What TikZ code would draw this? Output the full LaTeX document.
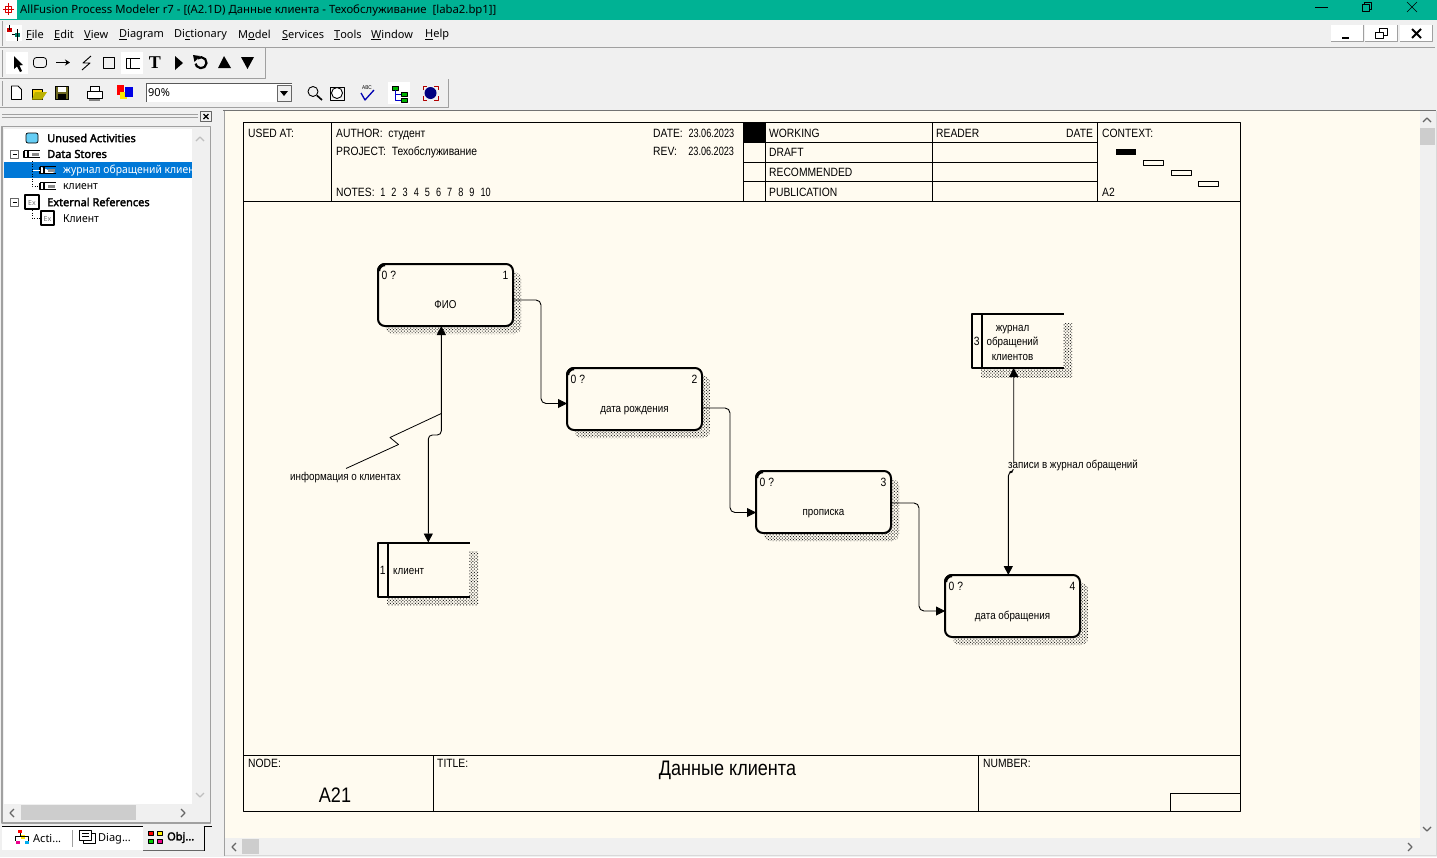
\documentclass[tikz,border=0pt]{standalone}
\usepackage{fontspec}
\setmainfont{Noto Sans}
\newfontfamily\dgmfont[FakeStretch=.86]{Liberation Sans}
\newfontfamily\dgmdigits[FakeStretch=.76]{Liberation Sans}
\newfontfamily\uiheavy[FakeBold=2.4]{Noto Sans}
\newfontfamily\uicyr[FakeStretch=.94]{Noto Sans}
\newfontfamily\uiserif{Liberation Serif}
\usetikzlibrary{arrows.meta,patterns.meta,shadows,calc}
\definecolor{cream}{HTML}{FFFBF0}
\definecolor{teal}{HTML}{00B294}
\definecolor{wingray}{HTML}{F0F0F0}
\definecolor{selblue}{HTML}{0078D7}
\definecolor{thumb}{HTML}{CDCDCD}
\definecolor{edgegray}{HTML}{A0A0A0}
\tikzset{
	ui/.style={inner sep=0pt,anchor=west,yshift=-1pt,font=\fontsize{11}{13}\selectfont},
	uibold/.style={inner sep=0pt,anchor=west,font=\fontsize{11}{13}\uiheavy},
	hdr/.style={inner sep=0pt,anchor=west,text height=8.6pt,text depth=0pt,font=\fontsize{12}{14}\dgmfont},
	dgm/.style={inner sep=0pt,font=\fontsize{11.4}{14.5}\dgmfont,align=center},
	dgmline/.style={dgm,text height=6pt,text depth=0pt},
	hatch/.style={pattern={Dots[radius=.7pt,distance=2.2pt,angle=45]},pattern color=black!85},
	actbox/.style={draw,line width=2pt,rounded corners=7pt,fill=cream,outer sep=0pt,inner sep=0pt,
		minimum width=135pt,minimum height=62pt,general shadow={shadow xshift=8pt,shadow yshift=-8pt,draw=none,hatch}},
	storebox/.style={fill=cream,outer sep=0pt,inner sep=0pt,
		minimum width=91pt,minimum height=54pt,general shadow={shadow xshift=9pt,shadow yshift=-9pt,draw=none,hatch}},
	storeline/.style={line width=2pt,line cap=rect},
	flow/.style={line width=.9pt,rounded corners=5pt},
	>={Triangle[length=9pt,width=9pt]},
	frameline/.style={line width=1pt},
	chev/.style={line width=1.3pt,draw=black!60},
}
\begin{document}
\begin{tikzpicture}[x=1pt,y=-1pt,line join=round]
	\useasboundingbox (0,0) rectangle (1437,857);
	\fill[wingray] (0,0) rectangle (1437,857);
	% title bar
	\fill[teal] (0,0) rectangle (1437,19.5);
	\fill[white] (0,0) rectangle (17,19);
	\draw[red!85!black,line width=1pt] (3,9) -- (14,9) (8.5,3) -- (8.5,15);
	\draw[red!85!black,line width=1pt] (5.5,6) rectangle (11.5,12);
	\node[ui,font=\fontsize{11.35}{13}\selectfont] (apptitle) at (20,9) {AllFusion Process Modeler r7 - [(A2.1D) Данные клиента - Техобслуживание \ [laba2.bp1]]};
	\draw (1315,7) -- (1328,7);
	\draw (1362,4.5) rectangle (1369,11.5) (1364,4.5) -- (1364,2.5) -- (1371,2.5) -- (1371,9.5) -- (1369,9.5);
	\draw (1407,2) -- (1417,12) (1417,2) -- (1407,12);
	% menu bar
	\fill[white] (6,25) rectangle (22,41);
	\fill[red!80!black] (7,28) rectangle (12,32);
	\fill[teal!70!black] (15,33) rectangle (20,37);
	\draw (9.5,25) -- (9.5,30) (17.5,29) -- (17.5,41) (12,34) -- (15,34);
	\foreach \x/\t in {26/\underline{F}ile,54/\underline{E}dit,84/\underline{V}iew,119/\underline{D}iagram,174/Di\underline{c}tionary,238/M\underline{o}del,282/\underline{S}ervices,334/\underline{T}ools,371/\underline{W}indow,425/\underline{H}elp}
		\node[ui] (menu\x) at (\x,34) {\t};
	\foreach \x in {1331,1365,1400} {
		\fill[white] (\x,25) rectangle (\x+32,41);
		\draw[edgegray,line width=.9pt] (\x+32,25) -- (\x+32,41) -- (\x,41);
	}
	\draw[line width=1.6pt] (1342,38) -- (1349,38);
	\draw[line width=.9pt] (1375,32) rectangle (1383,38);
	\draw[line width=.9pt] (1379,32) -- (1379,28.5) -- (1387,28.5) -- (1387,35) -- (1383,35);
	\draw[line width=1.8pt] (1412,29) -- (1421,38) (1421,29) -- (1412,38);
	\draw[edgegray,line width=1pt] (0,47.5) -- (1435,47.5);
	\draw[edgegray,line width=.6pt] (265,48) -- (265,78) -- (0,78) (448,79) -- (448,107.5) -- (0,107.5);
	\draw[edgegray,line width=.8pt] (2,21) -- (2,46) (2,50) -- (2,77) (2,81) -- (2,106);
	% first toolbar
	\fill[white] (6,52) rectangle (28,74);
	\fill[white] (121,52) rectangle (143,74);
	\fill (14,56) -- (14,69) -- (17,66.5) -- (20,72) -- (22,71) -- (19.5,65.5) -- (23,65) -- cycle;
	\draw[line width=.8pt,rounded corners=3pt] (33.5,57.5) rectangle (46.5,67.5);
	\draw[-{Stealth[length=5pt,width=6pt]},line width=.8pt] (56,62.5) -- (70,62.5);
	\draw[line width=.9pt] (91,56) -- (83,63) -- (90,63) -- (82,70);
	\draw[line width=1.6pt] (103.5,57.5) rectangle (114.5,68.5);
	\draw[line width=.9pt] (140,58) -- (126.5,58) -- (126.5,68) -- (140,68) (130.5,58) -- (130.5,68);
	\node[font=\fontsize{18}{18}\uiserif\bfseries,inner sep=0pt] (toolt) at (155,62.5) {T};
	\fill (175,56) -- (183,63) -- (175,70) -- cycle;
	\draw[line width=2.2pt] (197.5,58.5) arc[start angle=130,end angle=-170,radius=5.5pt];
	\fill (193,55) -- (200,56) -- (194.5,62) -- cycle;
	\fill (224,56) -- (231,68) -- (218,68) -- cycle;
	\fill (241,57) -- (254,57) -- (247.5,69) -- cycle;
	% second toolbar
	\draw[fill=white,line width=.9pt] (11.5,86) -- (18,86) -- (21.5,89.5) -- (21.5,99.5) -- (11.5,99.5) -- cycle;
	\draw[fill=yellow!70!orange,line width=.8pt] (32,99.5) -- (32,89) -- (42,89) -- (42,99.5) -- cycle;
	\fill[yellow!40!olive] (35,92) -- (47,92) -- (42,99.5) -- (32,99.5) -- cycle;
	\draw[fill=olive!70!black,line width=.8pt] (55.5,86.5) rectangle (68.5,99.5);
	\fill[white] (58,87) rectangle (66,92);
	\fill (58,94) rectangle (66,99);
	\draw[fill=white,line width=.8pt] (87,91) rectangle (102,98);
	\draw[fill=white,line width=.8pt] (90,86) rectangle (99,91);
	\fill[black!50] (89,99) rectangle (100,101);
	\fill[red] (117,85) rectangle (124,95);
	\fill[yellow!90!orange] (120,92) rectangle (127,99);
	\fill[blue!90!black] (125,87) rectangle (133,97);
	\fill[white] (146,83) rectangle (292,102);
	\draw[black!65,line width=.8pt] (292,83) -- (146,83) -- (146,102);
	\node[ui] (zoomval) at (148,92) {90\%};
	\fill[wingray] (277,85) rectangle (291,101);
	\draw[black!60,line width=.7pt] (277,85) rectangle (291,101);
	\fill (280,91) -- (288,91) -- (284,96) -- cycle;
	\draw[line width=.9pt] (313,91.5) circle[radius=5pt];
	\draw[line width=1.6pt] (317,95.5) -- (322,100);
	\draw[line width=.9pt] (330,87) rectangle (344,100);
	\draw[fill=white,line width=.9pt] (337,93) circle[radius=5.5pt];
	\node[font=\fontsize{5.5}{6}\dgmfont,inner sep=0pt] (spellabc) at (367,88) {ABC};
	\draw[blue!70!black,line width=1.3pt] (361,93) -- (365,100) -- (374,90);
	\fill[white] (388,82) rectangle (410,104);
	\draw[fill=green!70!black,line width=.7pt] (392,86) rectangle (398,90);
	\draw[fill=green!70!black,line width=.7pt] (401,92) rectangle (407,96);
	\draw[fill=green!70!black,line width=.7pt] (401,98) rectangle (407,102);
	\draw[blue!80!black,line width=.7pt] (395,90) -- (395,100) -- (401,100) (395,94) -- (401,94);
	\fill[blue!50!black] (430.5,93) circle[radius=6pt];
	\draw[red!70!black,line width=.7pt] (423,90) -- (423,86) -- (427,86) (438,90) -- (438,86) -- (434,86) (423,96) -- (423,100) -- (427,100) (438,96) -- (438,100) -- (434,100);
	% left pane
	\draw[edgegray,line width=.6pt] (2,114.5) -- (198,114.5) (2,117.5) -- (198,117.5);
	\draw[black!60,line width=.6pt] (200.5,111.5) rectangle (211.5,121.5);
	\draw[line width=1.3pt] (203.5,114) -- (208.5,119) (208.5,114) -- (203.5,119);
	\draw[edgegray,line width=1.2pt] (2,823) -- (2,126.5) -- (210.5,126.5) -- (210.5,823) -- cycle;
	\fill[white] (4,129) rectangle (192,804);
	\fill[selblue] (4,162) rectangle (192,178);
	\draw[chev,black!25] (196,141) -- (200,137) -- (204,141);
	\draw[chev,black!25] (196,793) -- (200,797) -- (204,793);
	\fill[thumb] (21,805) rectangle (136,820);
	\draw[chev] (14,809) -- (10,813) -- (14,817);
	\draw[chev] (181,809) -- (185,813) -- (181,817);
	\node[uibold] (treeunused) at (47,138) {Unused Activities};
	\node[uibold] (treestores) at (47,154) {Data Stores};
	\begin{scope}
		\clip (4,162) rectangle (192,178);
		\node[ui,text=white,font=\fontsize{11}{13}\uicyr] (treejournal) at (63,170) {журнал обращений клиен};
	\end{scope}
	\node[ui,font=\fontsize{11}{13}\uicyr] (treeclient) at (63,186) {клиент};
	\node[uibold] (treeext) at (47,202) {External References};
	\node[ui,font=\fontsize{11}{13}\uicyr] (treeclientext) at (63,218) {Клиент};
	\draw[fill=cyan!60,line width=.7pt,rounded corners=2pt] (26,133) rectangle (38,143);
	\foreach \y in {154,202} {
		\draw[black!60,line width=.7pt] (10.5,\y-4) rectangle (18.5,\y+4);
		\draw (12.5,\y) -- (16.5,\y);
	}
	\foreach \x/\y in {24/154,40/170,40/186} {
		\draw[line width=1.6pt,fill=white] (\x,\y-3.5) -- (\x+16,\y-3.5) (\x+16,\y+3.5) -- (\x,\y+3.5) -- (\x,\y-3.5);
		\draw[line width=1.8pt] (\x+4,\y-3.5) -- (\x+4,\y+3.5);
		\fill[black!45] (\x+8,\y-1.5) rectangle (\x+15,\y+1.5);
	}
	\foreach \x/\y/\s in {24/202/16,40/218/15} {
		\draw[line width=2.2pt,fill=white] (\x+1,\y-7) rectangle (\x+\s-1,\y+7);
		\node[font=\fontsize{7}{7}\selectfont,text=black!55,inner sep=0pt] (exticon\y) at (\x+\s/2,\y+1) {Ex};
	}
	\draw[dotted,line width=.5pt] (32,161) -- (32,186) -- (40,186) (32,210) -- (32,218) -- (40,218);
	\draw[white,line width=.6pt] (33,170) -- (40,170);
	% tabs
	\draw[line width=1pt] (2,826.5) -- (143,826.5) (203.5,826.5) -- (212,826.5);
	\fill[white] (2,827) rectangle (143,850);
	\draw[black!60,line width=.9pt] (143,850.5) -- (204,850.5);
	\draw[black,line width=.6pt] (204,826.5) -- (204,850.5);
	\draw[edgegray] (72.5,830) -- (72.5,847);
	\fill[red] (18,829.5) rectangle (22,833);
	\fill[yellow!90!orange] (21,835) rectangle (25,839);
	\fill[magenta] (16,841) rectangle (20,844);
	\fill[cyan] (25,841) rectangle (29,844);
	\draw[line width=.5pt] (20,833) -- (20,836) -- (15,836) -- (15,841) (20,836) -- (28,836) -- (28,841);
	\draw[line width=.7pt,fill=white] (83,833) rectangle (95,843);
	\draw[line width=.7pt,fill=white] (79.5,830) rectangle (91.5,840);
	\draw[line width=.6pt] (82,833.5) -- (89,833.5) (82,836.5) -- (89,836.5);
	\foreach \cc/\x/\y in {red/148/831,yellow/157/831,green!80!black/148/839,magenta/157/839} {
		\draw[fill=\cc,line width=.6pt] (\x,\y) rectangle (\x+5,\y+4);
	}
	\node[ui] (tabacti) at (33,838) {Acti...};
	\node[ui] (tabdiag) at (98,838) {Diag...};
	\node[uibold] (tabobj) at (167,837.5) {Obj...};
	% canvas and scroll bars
	\fill[cream] (225,111) rectangle (1420,838);
	\draw[black!55,line width=1.1pt] (223,110.5) -- (1436,110.5);
	\draw[edgegray,line width=1pt] (224,111) -- (224,856);
	\fill[thumb] (1420,128) rectangle (1435,145);
	\draw[chev] (1423,122) -- (1427,118) -- (1431,122);
	\draw[chev] (1423,827) -- (1427,831) -- (1431,827);
	\fill[thumb] (242,839) rectangle (259,854);
	\draw[chev] (236,843) -- (232,847) -- (236,851);
	\draw[chev] (1408,843) -- (1412,847) -- (1408,851);
	\draw[black!15,line width=1pt] (225,855.5) -- (1436,855.5) -- (1436,111);
	% idef frame
	\draw[frameline] (243.5,122.5) rectangle (1240.5,811.5);
	\draw[frameline] (243.5,201.5) -- (1240.5,201.5);
	\foreach \x in {331.5,743.5,765,932.5,1097.5}
		\draw[frameline] (\x,122.5) -- (\x,201.5);
	\foreach \y in {142.5,162,181.5}
		\draw[frameline] (743.5,\y) -- (1097.5,\y);
	\fill (743.5,122.5) rectangle (765,142.5);
	\draw[frameline] (243.5,755.5) -- (1240.5,755.5);
	\draw[frameline] (433.5,755.5) -- (433.5,811.5) (978.5,755.5) -- (978.5,811.5);
	\draw[frameline] (1170.5,811.5) -- (1170.5,793.5) -- (1240.5,793.5);
	\foreach \nm/\x/\y/\t in {used/248/133/{USED AT:},author/336/133/{AUTHOR: \ студент},project/336/151/{PROJECT: \ Техобслуживание},notes/336/192/{NOTES: \ {\dgmdigits 1 \kern1pt\ 2 \kern1pt\ 3 \kern1pt\ 4 \kern1pt\ 5 \kern1pt\ 6 \kern1pt\ 7 \kern1pt\ 8 \kern1pt\ 9 \kern1pt\ 10}},date/653/133/{DATE: \ {\dgmdigits 23.06.2023}},rev/653/151/{REV: \ \ \ {\dgmdigits 23.06.2023}},working/769/133/{WORKING},draft/769/152/{DRAFT},recomm/769/172/{RECOMMENDED},public/769/192/{PUBLICATION},reader/936/133/{READER},rdate/1066/133/{DATE},context/1102/133/{CONTEXT:},ctxnode/1102/192/{A2},nodelbl/248/763/{NODE:},titlelbl/437/763/{TITLE:},numberlbl/983/763/{NUMBER:}}
		\node[hdr] (\nm) at (\x,\y) {\t};
	\fill (1116,149) rectangle (1136,155);
	\foreach \x/\y in {1143.5/160.5,1171.5/170.5,1198.5/181.5}
		\draw[line width=.9pt] (\x,\y) rectangle (\x+19.5,\y+5);
	\node[inner sep=0pt,font=\fontsize{21}{24}\dgmfont] (nodeval) at (335,795) {A21};
	\node[inner sep=0pt,font=\fontsize{21}{24}\dgmfont] (titleval) at (727.5,770.5) {Данные клиента};
	% activities
	\foreach \nm/\x/\y/\n/\t in {fio/445.5/295/1/ФИО,birth/634.5/399/2/дата рождения,addr/823.5/502/3/прописка,visit/1012.5/606/4/дата обращения} {
		\node[actbox] (\nm) at (\x,\y) {};
		\node[dgmline] (\nm text) at ([yshift=-10pt]\nm.center) {\t};
		\node[hdr] (\nm cost) at ([shift={(3.5pt,-11pt)}]\nm.north west) {0 ?};
		\node[hdr,anchor=east] (\nm num) at ([shift={(-4.5pt,-11pt)}]\nm.north east) {\n};
		\draw[line width=3.2pt] ([shift={(.6pt,-7pt)}]\nm.north west) arc[start angle=180,end angle=90,radius=6.4pt];
	}
	% data stores
	\node[storebox] (client) at (423.5,569.5) {};
	\node[storebox] (journal) at (1017.5,341) {};
	\foreach \nm in {client,journal} {
		\draw[storeline] (\nm.north east) -- (\nm.north west) -- (\nm.south west) -- (\nm.south east);
		\draw[storeline] ([xshift=9.5pt]\nm.north west) -- ([xshift=9.5pt]\nm.south west);
	}
	\node[hdr,anchor=center] (client num) at ([xshift=4.8pt,yshift=-1pt]client.west) {1};
	\node[dgmline,anchor=west] (client text) at ([xshift=15pt,yshift=-2pt]client.west) {клиент};
	\node[hdr,anchor=center] (journal num) at ([xshift=4.8pt]journal.west) {3};
	\node[dgm] (journal text) at (1012.5,342.5) {журнал\\обращений\\клиентов};
	% flows
	\draw[flow,->] ([yshift=-5pt]fio.east) -- ++(28,0) |- ([yshift=-4.5pt]birth.west);
	\draw[flow,->] ([yshift=-9pt]birth.east) -- ++(28,0) |- ([yshift=-10.5pt]addr.west);
	\draw[flow,->] ([yshift=-1pt]addr.east) -- ++(28,0) |- ([yshift=-5pt]visit.west);
	\coordinate (flowtop) at ($(fio.south)+(-4.2pt,0)$);
	\coordinate (flowbot) at ($(client.north)+(4.8pt,0)$);
	\coordinate (squigend) at (346,468.5);
	\draw[flow,<->,rounded corners=4pt] (flowtop) -- (441.3,435) -- (428.3,435) -- (flowbot);
	\coordinate (squigstart) at (441.3,413.5);
	\draw[line width=.8pt] (squigstart) -- (390,437.5) -- (398.5,444.5) -- (squigend);
	\node[dgmline] (infolbl) at (345.5,477.5) {информация о клиентах};
	\coordinate (jrnbot) at ($(journal.south)+(-3.8pt,0)$);
	\coordinate (visittop) at ($(visit.north)+(-4.2pt,0)$);
	\draw[flow,<->,rounded corners=4pt] (jrnbot) -- (1013.7,472) -- (1008.3,472) -- (visittop);
	\node[dgmline,anchor=west,fill=cream] (recordlbl) at (1008,465.5) {записи в журнал обращений};
\end{tikzpicture}
\end{document}
